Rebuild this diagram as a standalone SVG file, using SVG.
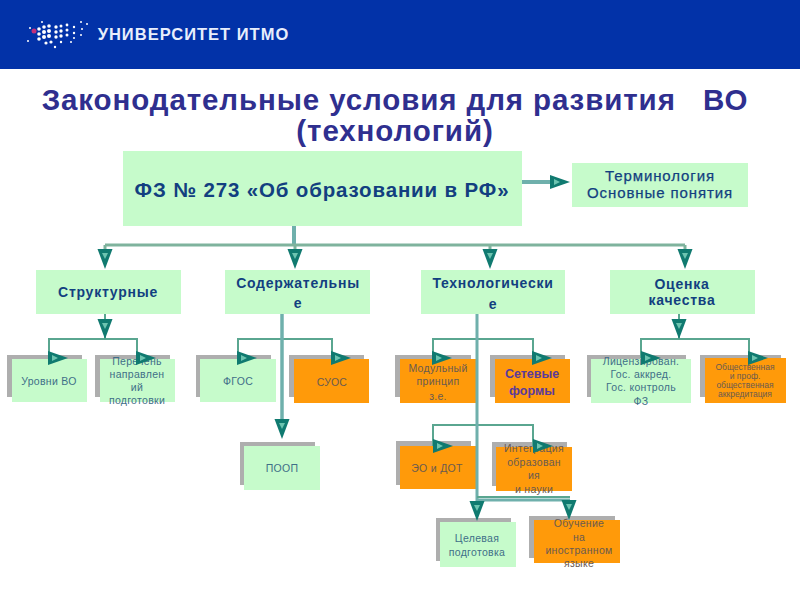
<svg xmlns="http://www.w3.org/2000/svg" width="800" height="600" viewBox="0 0 800 600">
<style>
text{font-family:"Liberation Sans",Arial,sans-serif;text-anchor:middle}
.t{fill:#2f2f8f;font-size:29.500px;font-weight:bold;letter-spacing:.9px}
.b{fill:#c6fbcb}.o{fill:#ff9a0a}.g{fill:#aeaeae}
.h{fill:#123f80;font-weight:bold;font-size:14px;letter-spacing:.75px}
.tm{fill:#123f80;font-size:15px;stroke:#123f80;stroke-width:.25px;letter-spacing:.9px}
.s{fill:#3f6f88;font-size:10.500px;letter-spacing:.3px}
.so{fill:#6a5a50;font-size:10.500px;letter-spacing:.3px}
.w{fill:none;stroke:#7fb39d;stroke-width:3}
.n{fill:none;stroke:#5aa690;stroke-width:2}
.k{fill:none;stroke:#6fb0ac;stroke-width:4}
.a{fill:#107a70}.i{fill:#6cc4b0}
</style>
<defs>
<g id="ad"><path class="a" d="M-7.500 0H7.500L0 20Z"/><path class="i" d="M-3 4H3L0 10Z"/></g>
<g id="ar"><path class="a" d="M0 -7V7L20 0Z"/><path class="i" d="M4 -3V3L10 0Z"/></g>
</defs>
<rect width="800" height="69" fill="#0232a8"/>
<g id="logo" fill="#fff">
<circle cx="34" cy="31" r="2.500" fill="#c2307a"/>
<circle cx="28" cy="41" r="1"/><circle cx="30" cy="28" r="1"/><circle cx="39" cy="29" r="1.800"/><circle cx="39" cy="34" r="1.800"/><circle cx="39" cy="39" r="1.800"/><circle cx="42" cy="22" r="1"/><circle cx="44" cy="27" r="1.800"/><circle cx="44" cy="32" r="2"/><circle cx="44" cy="37" r="2"/><circle cx="46" cy="43" r="1.600"/><circle cx="49" cy="26" r="1.800"/><circle cx="49" cy="31" r="2"/><circle cx="49" cy="36" r="2"/><circle cx="51" cy="42" r="1.600"/><circle cx="55" cy="47" r="1.200"/><circle cx="56" cy="27" r="1.700"/><circle cx="56" cy="32" r="1.700"/><circle cx="56" cy="37" r="1.700"/><circle cx="61" cy="26" r="1.500"/><circle cx="61" cy="31" r="1.700"/><circle cx="61" cy="36" r="1.700"/><circle cx="61" cy="42" r="1.200"/><circle cx="67" cy="25" r="1.400"/><circle cx="67" cy="30" r="1.500"/><circle cx="67" cy="35" r="1.500"/><circle cx="71" cy="42" r="1"/><circle cx="74" cy="27" r="1.200"/><circle cx="74" cy="33" r="1.200"/><circle cx="74" cy="38" r="1"/><circle cx="81" cy="22" r="1"/><circle cx="82" cy="29" r="1"/><circle cx="81" cy="35" r="1"/><circle cx="87" cy="24" r="1"/>
</g>
<text x="193.500" y="40" fill="#e8eefc" font-size="16.500" font-weight="bold" letter-spacing="1">УНИВЕРСИТЕТ ИТМО</text>
<text class="t" x="395" y="110" xml:space="preserve">Законодательные условия для развития   ВО</text>
<text class="t" x="395" y="141">(технологий)</text>

<g id="n-main"><rect class="b" x="123" y="151" width="399" height="75"/><text x="322" y="197" fill="#123f80" font-size="20.500" font-weight="bold" letter-spacing=".85">ФЗ № 273 «Об образовании в РФ»</text></g>
<g id="n-term"><rect class="b" x="572" y="163" width="176" height="44"/><text class="tm" x="660" y="181">Терминология</text><text class="tm" x="660" y="198">Основные понятия</text></g>
<g id="n-struct"><rect class="b" x="36" y="270" width="145" height="44"/><text class="h" x="108" y="297">Структурные</text></g>
<g id="n-content"><rect class="b" x="225" y="270" width="145" height="44"/><text class="h" x="298" y="288">Содержательны</text><text class="h" x="298" y="308">е</text></g>
<g id="n-tech"><rect class="b" x="421" y="270" width="144" height="44"/><text class="h" x="493" y="288">Технологически</text><text class="h" x="493" y="309">е</text></g>
<g id="n-qual"><rect class="b" x="610" y="270" width="145" height="44"/><text class="h" x="682" y="289">Оценка</text><text class="h" x="682" y="305">качества</text></g>

<g id="n-levels"><rect class="g" x="7" y="355" width="75" height="42"/><rect class="b" x="12" y="359" width="75" height="43"/><text class="s" x="49" y="385">Уровни ВО</text></g>
<g id="n-list"><rect class="g" x="95" y="355" width="75" height="42"/><rect class="b" x="100" y="359" width="75" height="43"/><text class="s" x="137" y="365">Перечень</text><text class="s" x="137" y="378">направлен</text><text class="s" x="137" y="391">ий</text><text class="s" x="137" y="404">подготовки</text></g>
<g id="n-fgos"><rect class="g" x="196" y="355" width="75" height="42"/><rect class="b" x="200" y="359" width="76" height="43"/><text class="s" x="238" y="385">ФГОС</text></g>
<g id="n-suos"><rect class="g" x="289" y="355" width="75" height="42"/><rect class="o" x="294" y="359" width="75" height="44"/><text class="so" x="332" y="386">СУОС</text></g>
<g id="n-mod"><rect class="g" x="395" y="355" width="76" height="42"/><rect class="o" x="400" y="359" width="76" height="44"/><text class="so" x="438" y="372">Модульный</text><text class="so" x="438" y="385">принцип</text><text class="so" x="438" y="400">з.е.</text></g>
<g id="n-net"><rect class="g" x="490" y="355" width="75" height="42"/><rect class="o" x="495" y="359" width="75" height="44"/><text x="532" y="378" font-size="12.500" font-weight="bold" fill="#5a3a9a">Сетевые</text><text x="532" y="395" font-size="12.500" font-weight="bold" fill="#5a3a9a">формы</text></g>
<g id="n-lic"><rect class="g" x="587" y="355" width="99" height="42"/><rect class="b" x="591" y="359" width="100" height="44"/><text class="s" x="641" y="365">Лицензирован.</text><text class="s" x="641" y="378">Гос. аккред.</text><text class="s" x="641" y="391">Гос. контроль</text><text class="s" x="641" y="405">ФЗ</text></g>
<g id="n-pub"><rect class="g" x="700" y="355" width="81" height="42"/><rect class="o" x="705" y="358" width="81" height="45"/><g style="font-size:8.500px" fill="#6a5a50"><text x="745" y="370">Общественная</text><text x="745" y="379">и проф.</text><text x="745" y="388">общественная</text><text x="745" y="397">аккредитация</text></g></g>
<g id="n-poop"><rect class="g" x="240" y="442" width="75" height="43"/><rect class="b" x="244" y="446" width="76" height="44"/><text class="s" x="282" y="472">ПООП</text></g>
<g id="n-eo"><rect class="g" x="396" y="441" width="75" height="44"/><rect class="o" x="400" y="446" width="76" height="43"/><text class="so" x="437" y="472">ЭО и ДОТ</text></g>
<g id="n-int"><rect class="g" x="492" y="442" width="75" height="44"/><rect class="o" x="496" y="447" width="76" height="44"/><text class="so" x="534" y="452">Интеграция</text><text class="so" x="534" y="466">образован</text><text class="so" x="534" y="479">ия</text><text class="so" x="534" y="493">и науки</text></g>
<g id="n-target"><rect class="g" x="436" y="518" width="75" height="43"/><rect class="b" x="440" y="522" width="76" height="45"/><text class="s" x="477" y="542">Целевая</text><text class="s" x="477" y="556">подготовка</text></g>
<g id="n-study"><rect class="g" x="529" y="516" width="86" height="42"/><rect class="o" x="534" y="520" width="86" height="43"/><text class="so" x="579" y="527">Обучение</text><text class="so" x="579" y="541">на</text><text class="so" x="579" y="554">иностранном</text><text class="so" x="579" y="567">языке</text></g>

<g id="connectors">
<path class="k" d="M522 182H550M294 226V245"/>
<path class="w" d="M105 245H685M105 245V250M295 245V250M490 245V250M685 245V250"/>
<path class="n" d="M105 314V339M49 358V339H137V358M238 358V339H332V358M433 358V339H533V358M679 314V339M641 358V339H749V358M433 446V425H533V446"/>
<path class="k" style="stroke-width:3.500" d="M282 314V420"/>
<path class="k" style="stroke-width:3" d="M477 314V500H570"/>
<path class="n" d="M477 497H570"/>
<use href="#ad" x="105" y="249"/><use href="#ad" x="295" y="249"/><use href="#ad" x="490" y="249"/><use href="#ad" x="685" y="249"/><use href="#ad" x="105" y="319"/><use href="#ad" x="679" y="319"/><use href="#ad" x="282" y="419"/><use href="#ad" x="477" y="501"/><use href="#ad" x="569" y="500"/>
<use href="#ar" x="550" y="182"/><use href="#ar" x="48" y="358"/><use href="#ar" x="136" y="358"/><use href="#ar" x="237" y="358"/><use href="#ar" x="331" y="358"/><use href="#ar" x="432" y="358"/><use href="#ar" x="532" y="358"/><use href="#ar" x="641" y="358"/><use href="#ar" x="748" y="358"/><use href="#ar" x="433" y="446"/><use href="#ar" x="533" y="446"/>
</g>
</svg>
